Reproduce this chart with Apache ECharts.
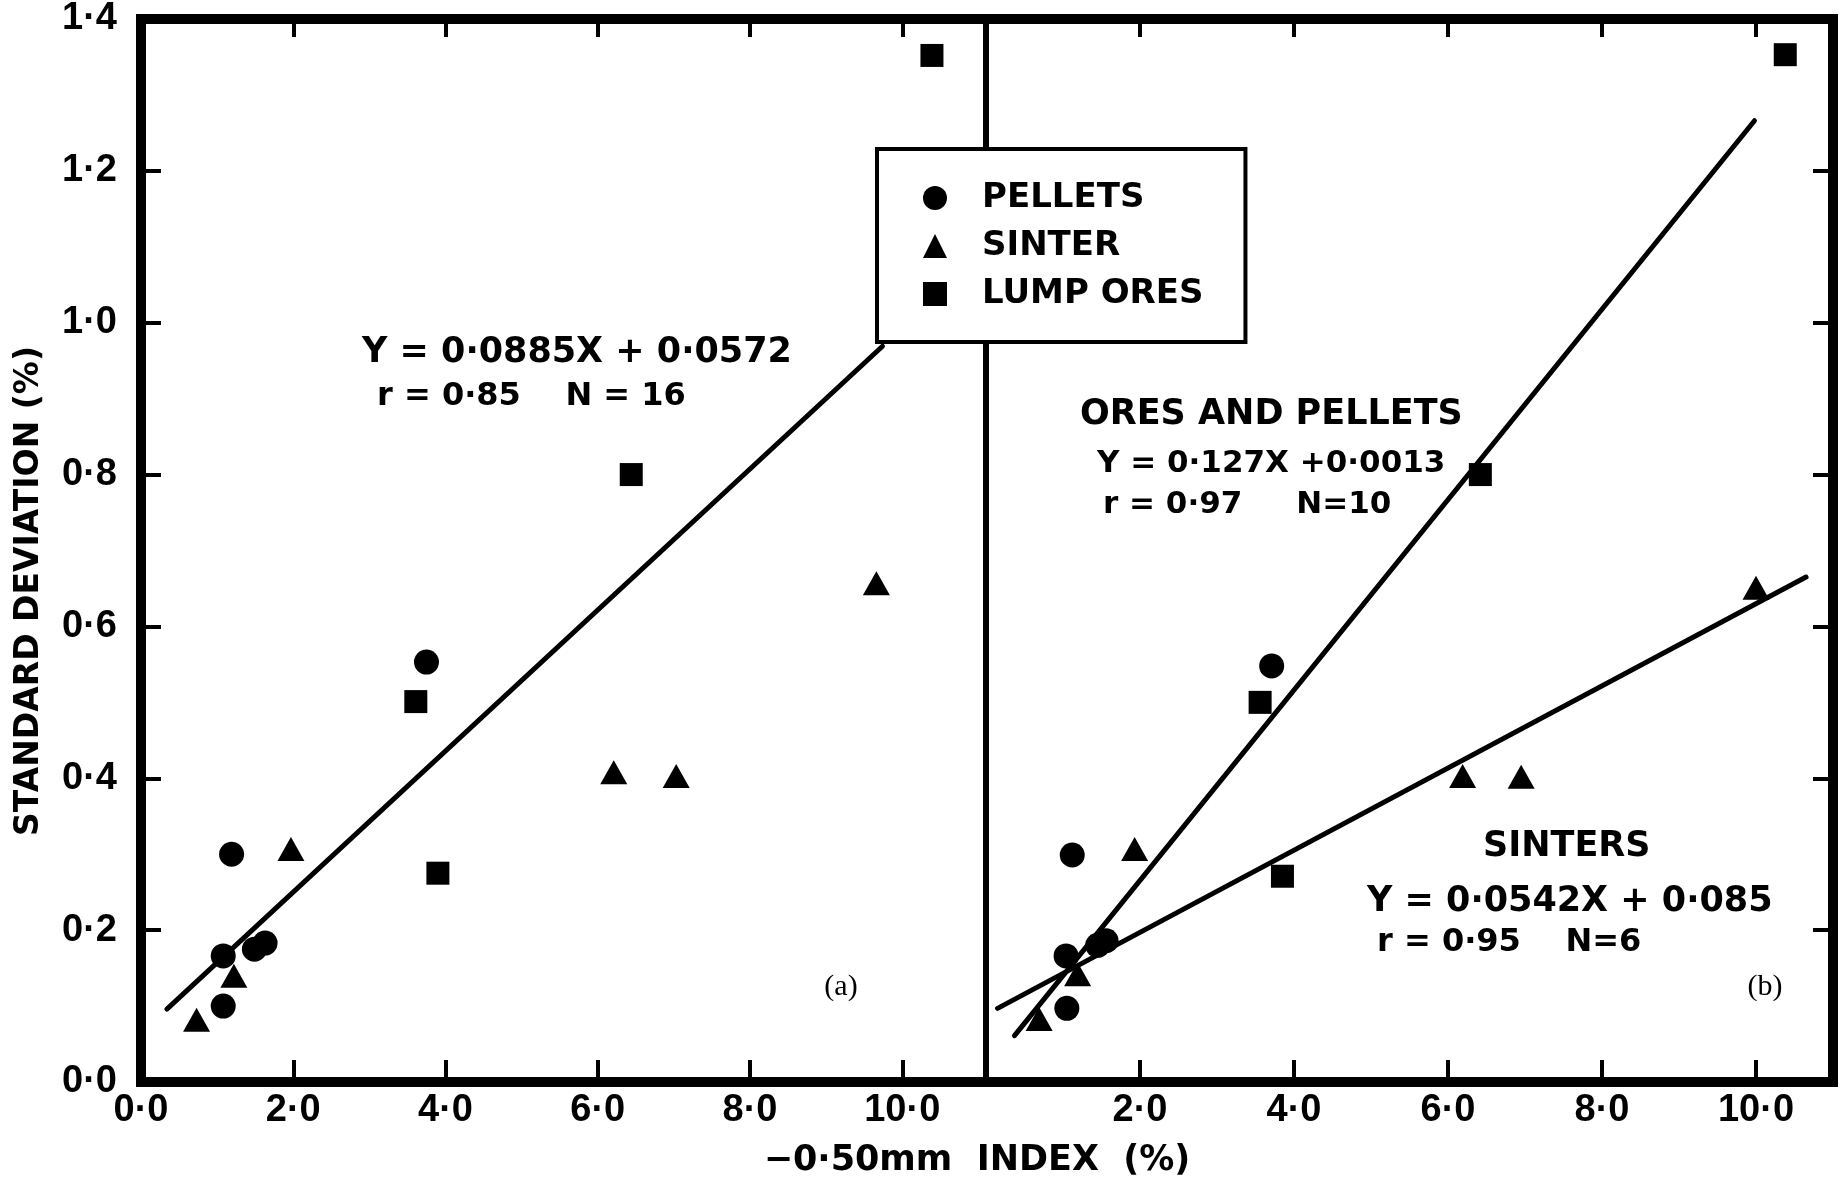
<!DOCTYPE html>
<html><head><meta charset="utf-8">
<script src="https://cdn.jsdelivr.net/npm/echarts@6/dist/echarts.min.js"></script>
<style>html,body{margin:0;padding:0;background:#fff}#c{width:1845px;height:1189px}</style>
</head><body><div id="c"></div>
<script>
// ---- data ----
const xTicksA = [0, 2, 4, 6, 8, 10];
const xTickLabelsA = ['0·0', '2·0', '4·0', '6·0', '8·0', '10·0'];
const xTicksB = [2, 4, 6, 8, 10];
const xTickLabelsB = ['2·0', '4·0', '6·0', '8·0', '10·0'];
const yTicks = [0, 0.2, 0.4, 0.6, 0.8, 1.0, 1.2, 1.4];
const yTickLabels = ['0·0', '0·2', '0·4', '0·6', '0·8', '1·0', '1·2', '1·4'];

// panel (a)
const pelletsA = [[1.19, 0.300], [1.08, 0.166], [1.08, 0.100], [1.49, 0.175], [1.63, 0.183], [3.75, 0.553]];
const sinterA = [[0.73, 0.082], [1.22, 0.140], [1.97, 0.307], [6.21, 0.408], [7.03, 0.403], [9.66, 0.657]];
const lumpA = [[3.61, 0.501], [3.90, 0.275], [6.44, 0.800], [10.39, 1.352]];
const fitA = [[0.34, 0.096], [9.74, 0.969]];

// panel (b)
const pelletsB = [[1.12, 0.299], [1.04, 0.166], [1.05, 0.097], [1.45, 0.180], [1.56, 0.186], [3.71, 0.548]];
const sinterB = [[0.69, 0.083], [1.19, 0.142], [1.93, 0.307], [6.19, 0.403], [6.95, 0.402], [10.00, 0.651]];
const lumpB = [[3.56, 0.500], [3.85, 0.271], [6.42, 0.800], [10.38, 1.353]];
const fitOresB = [[0.37, 0.061], [9.98, 1.266]];
const fitSintersB = [[0.15, 0.097], [10.65, 0.665]];

// ---- helpers ----
function lookup(ticks, labels) {
  return function (v) {
    for (let i = 0; i < ticks.length; i++) if (Math.abs(ticks[i] - v) < 1e-6) return labels[i];
    return '';
  };
}
const BLACK = '#000';
const tickFont = { fontFamily: 'Liberation Sans', fontWeight: 'bold', fontSize: 38, color: BLACK };
const ann = (px) => 'bold ' + px + 'px "DejaVu Sans"';

function xAxisBottom(grid, min, max, ticks, labels) {
  return {
    gridIndex: grid, type: 'value', position: 'bottom', min: min, max: max, interval: 2,
    axisLine: { show: true, onZero: false, lineStyle: { color: BLACK, width: 10, cap: 'square' } },
    axisTick: { show: true, inside: true, length: 22, lineStyle: { color: BLACK, width: 4 } },
    axisLabel: Object.assign({ show: true, margin: 10, formatter: lookup(ticks, labels), showMinLabel: true, showMaxLabel: true }, tickFont),
    splitLine: { show: false }
  };
}
function xAxisTop(grid, min, max) {
  return {
    gridIndex: grid, type: 'value', position: 'top', min: min, max: max, interval: 2,
    axisLine: { show: true, onZero: false, lineStyle: { color: BLACK, width: 10, cap: 'square' } },
    axisTick: { show: true, inside: true, length: 18, lineStyle: { color: BLACK, width: 4 } },
    axisLabel: { show: false }, splitLine: { show: false }
  };
}

const scatterBase = (name, data, xi, yi, symbol, size) => ({
  name: name, type: 'scatter', xAxisIndex: xi, yAxisIndex: yi, data: data,
  symbol: symbol, symbolSize: size, itemStyle: { color: BLACK, opacity: 1 }, z: 5, silent: true
});
const fitLine = (name, data, xi, yi) => ({
  name: name, type: 'line', xAxisIndex: xi, yAxisIndex: yi, data: data,
  showSymbol: false, symbol: 'none', lineStyle: { color: BLACK, width: 5, cap: 'round' }, z: 4, silent: true
});
const txt = (x, y, text, font, align) => ({
  type: 'text', x: x, y: y, z: 20,
  style: { text: text, font: font, fill: BLACK, align: align || 'left', verticalAlign: 'middle' }
});

const option = {
  backgroundColor: '#fff',
  animation: false,
  grid: [
    { left: 141, top: 19, width: 845, height: 1063, containLabel: false },
    { left: 986, top: 19, width: 847, height: 1063, containLabel: false }
  ],
  xAxis: [
    xAxisBottom(0, 0, 11.1, xTicksA, xTickLabelsA),
    xAxisTop(0, 0, 11.1),
    xAxisBottom(1, 0, 11, xTicksB, xTickLabelsB),
    xAxisTop(1, 0, 11)
  ],
  yAxis: [
    {
      gridIndex: 0, type: 'value', position: 'left', min: 0, max: 1.4, interval: 0.2,
      axisLine: { show: true, onZero: false, lineStyle: { color: BLACK, width: 10, cap: 'square' } },
      axisTick: { show: true, inside: true, length: 20, lineStyle: { color: BLACK, width: 4 } },
      axisLabel: Object.assign({ show: true, margin: 24, formatter: lookup(yTicks, yTickLabels), showMinLabel: true, showMaxLabel: true }, tickFont),
      splitLine: { show: false }
    },
    {
      gridIndex: 1, type: 'value', position: 'right', min: 0, max: 1.4, interval: 0.2,
      axisLine: { show: true, onZero: false, lineStyle: { color: BLACK, width: 10, cap: 'square' } },
      axisTick: { show: true, inside: true, length: 20, lineStyle: { color: BLACK, width: 4 } },
      axisLabel: { show: false }, splitLine: { show: false }
    },
    {
      gridIndex: 1, type: 'value', position: 'left', min: 0, max: 1.4, interval: 0.2,
      axisLine: { show: true, onZero: false, lineStyle: { color: BLACK, width: 6 } },
      axisTick: { show: false }, axisLabel: { show: false }, splitLine: { show: false }
    }
  ],
  legend: {
    data: [
      { name: 'PELLETS', icon: 'circle' },
      { name: 'SINTER', icon: 'triangle' },
      { name: 'LUMP ORES', icon: 'rect' }
    ],
    orient: 'vertical', left: 877, top: 149,
    itemWidth: 24, itemHeight: 24, itemGap: 8,
    padding: [29, 42, 28, 46],
    borderColor: BLACK, borderWidth: 4, backgroundColor: '#fff', borderRadius: 0,
    textStyle: { fontFamily: 'DejaVu Sans', fontWeight: 'bold', fontSize: 34, color: BLACK, padding: [0, 0, 0, 30], lineHeight: 40 },
    selectedMode: false, z: 10
  },
  series: [
    scatterBase('PELLETS', pelletsA, 0, 0, 'circle', 25),
    scatterBase('SINTER', sinterA, 0, 0, 'triangle', [27, 24]),
    scatterBase('LUMP ORES', lumpA, 0, 0, 'rect', 23),
    fitLine('All samples fit', fitA, 0, 0),
    scatterBase('PELLETS', pelletsB, 2, 1, 'circle', 25),
    scatterBase('SINTER', sinterB, 2, 1, 'triangle', [27, 24]),
    scatterBase('LUMP ORES', lumpB, 2, 1, 'rect', 23),
    fitLine('Ores and pellets fit', fitOresB, 2, 1),
    fitLine('Sinters fit', fitSintersB, 2, 1)
  ],
  graphic: [
    { type: 'text', x: 29, y: 591, rotation: Math.PI / 2, z: 20, style: { text: 'STANDARD DEVIATION (%)', font: ann(33), fill: BLACK, align: 'center', verticalAlign: 'middle' } },
    txt(977, 1161, '−0·50mm  INDEX  (%)', ann(35), 'center'),
    txt(362, 353, 'Y = 0·0885X + 0·0572', ann(35)),
    txt(377, 397, 'r = 0·85    N = 16', ann(32)),
    txt(1080, 415, 'ORES AND PELLETS', ann(35)),
    txt(1097, 464, 'Y = 0·127X +0·0013', ann(31)),
    txt(1103, 505, 'r = 0·97     N=10', ann(31)),
    txt(1483, 847, 'SINTERS', ann(35)),
    txt(1367, 902, 'Y = 0·0542X + 0·085', ann(35)),
    txt(1377, 943, 'r = 0·95    N=6', ann(32)),
    txt(841, 987, '(a)', '30px "Liberation Serif"', 'center'),
    txt(1765, 987, '(b)', '30px "Liberation Serif"', 'center')
  ]
};

const chart = echarts.init(document.getElementById('c'), null, { renderer: 'canvas' });
chart.setOption(option);
</script>
</body></html>
